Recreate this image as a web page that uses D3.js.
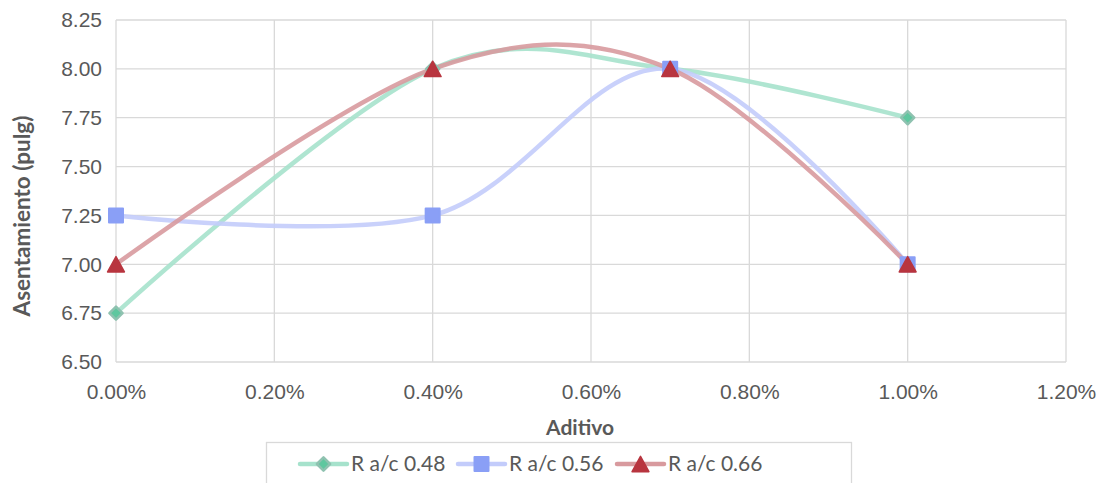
<!DOCTYPE html>
<meta charset="utf-8">
<script src="https://cdn.jsdelivr.net/npm/d3@7"></script>
<style>
  body { margin: 0; background: #fff; }
  svg { font-family: Lato, "Open Sans", sans-serif; }
  .tick text { fill: #595959; font-size: 21px; }
</style>
<body>
<svg width="1103" height="483"></svg>
<script>
// data
var aditivo = [0.000, 0.004, 0.007, 0.010];
var ra048 = [6.75, 8.00, 8.00, 7.75];
var ra056 = [7.25, 7.25, 8.00, 7.00];
var ra066 = [7.00, 8.00, 8.00, 7.00];
var xTicks = [0, 0.002, 0.004, 0.006, 0.008, 0.010, 0.012];
var yTicks = [6.50, 6.75, 7.00, 7.25, 7.50, 7.75, 8.00, 8.25];

// excel-like triangle: centred on its bounding box
var triangleBox = {
  draw: function(ctx, size) {
    var h = Math.sqrt(size) * 1.25, w = h * 1.1;
    ctx.moveTo(0, -h / 2);
    ctx.lineTo(w / 2, h / 2);
    ctx.lineTo(-w / 2, h / 2);
    ctx.closePath();
  }
};

var series = [
  {name: "R a/c 0.48", values: ra048, line: "#a6e2cc", fill: "#5fc79f", stroke: "#8fc2b0", shape: d3.symbolDiamond2, size: 110, sw: 2.5},
  {name: "R a/c 0.56", values: ra056, line: "#c3ccfb", fill: "#8a9ff6", stroke: "#8a9ff6", shape: d3.symbolSquare, size: 196, sw: 2},
  {name: "R a/c 0.66", values: ra066, line: "#d89a9e", fill: "#b8353f", stroke: "#b8353f", shape: triangleBox, size: 150, sw: 1.5}
];

var svg = d3.select("svg");
var plotL = 116, plotR = 1066, plotT = 20, plotB = 362;

var x = d3.scaleLinear().domain([0, 0.012]).range([plotL, plotR]);
var y = d3.scaleLinear().domain([6.5, 8.25]).range([plotB, plotT]);

// grid
svg.append("g").selectAll("line").data(yTicks).enter().append("line")
    .attr("x1", plotL).attr("x2", plotR)
    .attr("y1", function(d) { return y(d); }).attr("y2", function(d) { return y(d); })
    .attr("stroke", "#d9d9d9").attr("stroke-width", 1.3);
svg.append("g").selectAll("line").data(xTicks).enter().append("line")
    .attr("y1", plotT).attr("y2", plotB)
    .attr("x1", function(d) { return x(d); }).attr("x2", function(d) { return x(d); })
    .attr("stroke", "#d9d9d9").attr("stroke-width", 1.3);

// axes (labels only)
var xAxis = svg.append("g").attr("transform", "translate(0," + plotB + ")")
    .call(d3.axisBottom(x).tickValues(xTicks).tickFormat(d3.format(".2%")).tickSize(0).tickPadding(14));
var yAxis = svg.append("g").attr("transform", "translate(" + plotL + ",0)")
    .call(d3.axisLeft(y).tickValues(yTicks).tickFormat(d3.format(".2f")).tickSize(0).tickPadding(14));
svg.selectAll(".domain").remove();
xAxis.selectAll("text").attr("dy", "0.72em").attr("y", 22);

// titles
svg.append("text").attr("x", 580).attr("y", 435).attr("text-anchor", "middle")
    .attr("fill", "#595959").attr("font-size", 21).attr("font-weight", "bold").text("Aditivo");
svg.append("text").attr("transform", "translate(30,216) rotate(-90)").attr("text-anchor", "middle")
    .attr("fill", "#595959").attr("font-size", 22.5).attr("font-weight", "bold").text("Asentamiento (pulg)");

// lines
var line = d3.line()
    .x(function(d, i) { return x(aditivo[i]); })
    .y(function(d) { return y(d); })
    .curve(d3.curveCardinal.tension(0));

series.forEach(function(s) {
  svg.append("path").datum(s.values)
      .attr("d", line)
      .attr("fill", "none")
      .attr("stroke", s.line)
      .attr("stroke-width", 4.5)
      .attr("stroke-linecap", "round")
      .attr("opacity", 0.9);
});

series.forEach(function(s) {
  svg.append("g").selectAll("path").data(s.values).enter().append("path")
      .attr("d", d3.symbol().type(s.shape).size(s.size))
      .attr("transform", function(d, i) { return "translate(" + x(aditivo[i]) + "," + y(d) + ")"; })
      .attr("fill", s.fill)
      .attr("stroke", s.stroke)
      .attr("stroke-width", s.sw)
      .attr("stroke-linejoin", "round");
});

// legend
svg.append("rect").attr("x", 266.5).attr("y", 442.5).attr("width", 585).attr("height", 50)
    .attr("fill", "none").attr("stroke", "#d9d9d9").attr("stroke-width", 1.3);
var legX = [300, 458, 617];
series.forEach(function(s, i) {
  var g = svg.append("g").attr("transform", "translate(" + legX[i] + ",464)");
  g.append("line").attr("x1", 0).attr("x2", 47).attr("stroke", s.line)
      .attr("stroke-width", 4.5).attr("stroke-linecap", "round");
  g.append("path").attr("d", d3.symbol().type(s.shape).size(s.size)).attr("transform", "translate(23.5,0)")
      .attr("fill", s.fill).attr("stroke", s.stroke).attr("stroke-width", s.sw).attr("stroke-linejoin", "round");
  g.append("text").attr("x", 51).attr("y", 7).attr("fill", "#595959").attr("font-size", 21).text(s.name);
});
</script>
</body>
